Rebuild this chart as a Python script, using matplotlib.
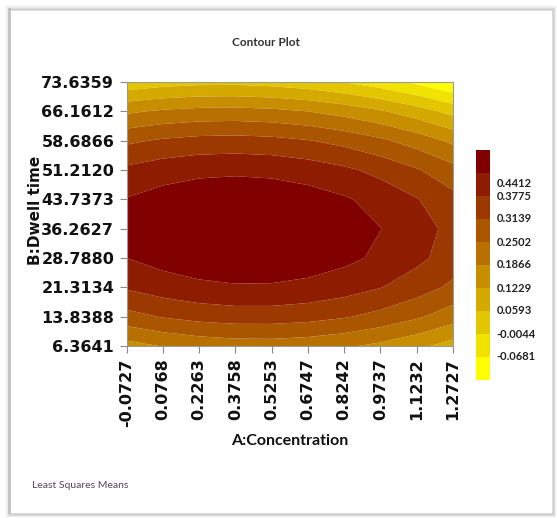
import numpy as np
import matplotlib
matplotlib.use("Agg")
import matplotlib.pyplot as plt
from matplotlib.colors import ListedColormap, BoundaryNorm
from matplotlib.patches import Rectangle

# Factor levels (grid nodes) for A:Concentration and B:Dwell time
concentration = [-0.0727, 0.0768, 0.2263, 0.3758, 0.5253, 0.6747, 0.8242, 0.9737, 1.1232, 1.2727]
dwell_time = [6.3641, 13.8388, 21.3134, 28.7880, 36.2627, 43.7373, 51.2120, 58.6866, 66.1612, 73.6359]

# Least squares mean response, one row per dwell time (bottom to top)
response = [
    [0.1626, 0.1898, 0.2084, 0.2183, 0.2196, 0.2122, 0.1962, 0.1715, 0.1382, 0.0962],
    [0.2918, 0.3181, 0.3357, 0.3446, 0.3449, 0.3365, 0.3195, 0.2938, 0.2595, 0.2165],
    [0.3847, 0.4099, 0.4265, 0.4345, 0.4338, 0.4244, 0.4064, 0.3797, 0.3444, 0.3005],
    [0.4410, 0.4653, 0.4809, 0.4879, 0.4862, 0.4758, 0.4568, 0.4292, 0.3929, 0.3479],
    [0.4609, 0.4842, 0.4988, 0.5048, 0.5021, 0.4908, 0.4708, 0.4422, 0.4049, 0.3590],
    [0.4444, 0.4667, 0.4803, 0.4853, 0.4817, 0.4693, 0.4484, 0.4188, 0.3805, 0.3336],
    [0.3914, 0.4127, 0.4254, 0.4294, 0.4247, 0.4114, 0.3895, 0.3589, 0.3196, 0.2717],
    [0.3020, 0.3223, 0.3340, 0.3370, 0.3314, 0.3171, 0.2941, 0.2625, 0.2223, 0.1734],
    [0.1762, 0.1955, 0.2062, 0.2082, 0.2016, 0.1863, 0.1624, 0.1298, 0.0885, 0.0386],
    [0.0139, 0.0322, 0.0419, 0.0429, 0.0353, 0.0191, -0.0059, -0.0394, -0.0817, -0.1325],
]

# Contour levels shown on the colour key
contour_levels = [-0.0681, -0.0044, 0.0593, 0.1229, 0.1866, 0.2502, 0.3139, 0.3775, 0.4412]

band_colors = ["#FFFF00", "#F1E300", "#E3C600", "#D5AA00", "#C78E00",
               "#B87100", "#AA5500", "#9C3900", "#8E1C00", "#800000"]

W, H = 557, 518
fig = plt.figure(figsize=(W / 100, H / 100), dpi=100)
fig.patch.set_facecolor("white")


def fx(px):
    return px / W


def fy(py):
    return 1 - py / H


# Panel frame with a soft shadow
for off, col, lw in [(3, "#eeeeee", 3.0), (1.5, "#dddddd", 2.0), (0, "#cfcfcf", 1.0)]:
    fig.patches.append(Rectangle((fx(9 - off * 0.3), fy(514 + off * 0.3)),
                                 fx(544 + off * 0.6), (505 + off * 0.6) / H,
                                 transform=fig.transFigure, fill=False,
                                 edgecolor=col, linewidth=lw, zorder=0))
fig.patches.append(Rectangle((fx(8), fy(514)), fx(2.5), 506 / H,
                             transform=fig.transFigure, facecolor="#c4c4c4",
                             edgecolor="none", zorder=0))

x = np.array(concentration)
y = np.array(dwell_time)
Z = np.array(response)

levels = [Z.min()] + contour_levels + [Z.max()]
cmap = ListedColormap(band_colors)
norm = BoundaryNorm(levels, cmap.N)

ax = fig.add_axes([fx(126.7), fy(346), fx(453 - 126.7), (346 - 82) / H])
cs = ax.contourf(x, y, Z, levels=levels, cmap=cmap, norm=norm, antialiased=True)
ax.set_xlim(x[0], x[-1])
ax.set_ylim(y[0], y[-1])
ax.set_xticks(concentration)
ax.set_yticks(dwell_time)
ax.set_xticklabels([f"{v:.4f}" for v in concentration], rotation=90,
                   fontsize=11.5, fontweight="bold", family="DejaVu Sans")
ax.set_yticklabels([f"{v:.4f}" for v in dwell_time],
                   fontsize=11.5, fontweight="bold", family="DejaVu Sans")
ax.tick_params(axis="both", direction="out", length=5, width=0.8,
               color="#888888", labelcolor="#111111")
ax.tick_params(axis="x", pad=4)
ax.tick_params(axis="y", pad=4)
for s in ax.spines.values():
    s.set_color("#9a9a9a")
    s.set_linewidth(0.8)

# Colour key
cax = fig.add_axes([fx(476), fy(380), fx(14), 230 / H])
cb = fig.colorbar(cs, cax=cax, spacing="uniform", ticks=[])
cb.outline.set_visible(False)
cax.minorticks_off()
cax.tick_params(which="both", length=0, labelright=False, labelleft=False)
for i, lev in enumerate(contour_levels):
    pos = (i + 1) / 10
    if lev == contour_levels[-1]:
        pos -= 0.045
    cax.text(1.45, pos, f"{lev:.4f}", transform=cax.transAxes, ha="left",
             va="center", fontsize=8, fontweight="bold", family="Lato",
             color="#222222")

fig.text(fx(265.5), fy(43), "Contour Plot", ha="center", va="center",
         fontsize=8.5, fontweight="bold", family="Lato", color="#333333")
fig.text(fx(289.5), fy(441), "A:Concentration", ha="center", va="center",
         fontsize=11.5, fontweight="bold", family="Lato", color="#111111")
fig.text(fx(35), fy(210), "B:Dwell time", ha="center", va="center",
         rotation=90, fontsize=11, fontweight="bold", family="DejaVu Sans",
         color="#111111")
fig.text(fx(32), fy(486), "Least Squares Means", ha="left", va="center",
         fontsize=7.5, family="Lato", color="#5a4658")

fig.savefig("out.png", dpi=100)
